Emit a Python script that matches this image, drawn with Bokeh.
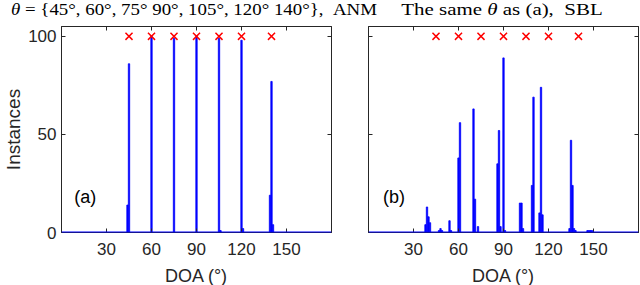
from bokeh.plotting import figure
from bokeh.models import (Range1d, LinearAxis, Label, Span, Div, FixedTicker,
                          CustomLabelingPolicy)
from bokeh.layouts import row, column
from bokeh.embed import file_html
from bokeh.resources import INLINE

# ---- data ----
theta = [45, 60, 75, 90, 105, 120, 140]
theta_marker_y = [100] * len(theta)

anm_doa = [44, 45, 60, 75, 90, 105, 106, 120, 121, 139, 140, 141]
anm_cnt = [14, 86, 100, 99, 100, 99, 1, 98, 2, 19, 77, 4]

sbl_doa = [38, 39, 40, 41, 47, 48, 49, 54, 55, 60, 61, 70, 71, 73,
           86, 87, 88, 90, 91, 101, 102, 103, 109, 110, 114, 115, 116,
           134, 135, 136, 137, 138, 146, 147, 148, 149]
sbl_cnt = [4, 13, 8, 5, 1, 2, 1, 6, 1, 38, 56, 63, 17, 3,
           35, 52, 3, 89, 1, 15, 15, 2, 24, 69, 10, 74, 9,
           2, 47, 24, 2, 1, 1, 1, 1, 1]

x_ticks = [30, 60, 90, 120, 150]
y_ticks = [0, 50, 100]
title_a = "<i>θ</i> = {45°, 60°, 75° 90°, 105°, 120° 140°},&nbsp; ANM"
title_b = "The same <i>θ</i> as (a),&nbsp; SBL"

AX = "#262626"
FONT = "Liberation Sans"
NO_LABELS = CustomLabelingPolicy(code="return new Set()")


def style_axis(ax, ticks, show_labels):
    ax.ticker = FixedTicker(ticks=ticks)
    ax.major_tick_in = 4
    ax.major_tick_out = 0
    ax.minor_tick_in = 0
    ax.minor_tick_out = 0
    ax.axis_line_color = AX
    ax.major_tick_line_color = AX
    ax.major_label_text_font = FONT
    ax.major_label_text_color = AX
    ax.axis_label_text_font = FONT
    ax.axis_label_text_font_style = "normal"
    ax.axis_label_text_color = AX
    if show_labels:
        ax.major_label_text_font_size = "17px"
    else:
        ax.major_label_policy = NO_LABELS
        ax.major_label_text_font_size = "1px"
        ax.major_label_standoff = 0


def make_fig(doa, cnt, tag, tag_x, left_labels, mb_left, mb_right):
    p = figure(frame_width=270, frame_height=206,
               x_range=Range1d(0, 180), y_range=Range1d(0, 105),
               output_backend="svg", toolbar_location=None,
               min_border_left=mb_left, min_border_right=mb_right,
               min_border_top=2, min_border_bottom=0)
    p.grid.visible = False
    p.outline_line_color = AX
    p.background_fill_color = "white"
    p.border_fill_color = "white"

    xb = p.xaxis[0]
    style_axis(xb, x_ticks, True)
    xb.axis_label = "DOA (°)"
    xb.axis_label_text_font_size = "18px"
    xb.major_label_standoff = 10
    xb.axis_label_standoff = 8

    yl = p.yaxis[0]
    style_axis(yl, y_ticks, left_labels)
    if left_labels:
        yl.axis_label = "Instances"
        yl.axis_label_text_font_size = "19px"
        yl.major_label_standoff = 5
        yl.axis_label_standoff = 1

    xt = LinearAxis()
    style_axis(xt, x_ticks, False)
    p.add_layout(xt, "above")
    yr = LinearAxis()
    style_axis(yr, y_ticks, False)
    p.add_layout(yr, "right")

    p.vbar(x=doa, top=cnt, width=0.9, fill_color="#0000FF",
           line_color="#0000FF", line_width=0.8)
    p.add_layout(Span(location=0, dimension="width", line_color="#0000FF",
                      line_width=2))
    p.scatter(theta, theta_marker_y, marker="x", size=10,
              line_color="#FF0000", line_width=1.5)
    p.add_layout(Label(x=tag_x, y=18, text=tag, text_baseline="middle",
                       text_font=FONT, text_font_size="18px",
                       text_color="#000000"))
    return p


p1 = make_fig(anm_doa, anm_cnt, "(a)", 8.5, True, 60, 18)
p2 = make_fig(sbl_doa, sbl_cnt, "(b)", 9.7, False, 19, 3)


def span(left, scale, content):
    return ('<span style="position:absolute;top:0;left:%dpx;'
            'transform:translateX(-50%%) scaleX(%.2f);">%s</span>'
            % (left, scale, content))


html = (
    '<div style="position:relative;width:640px;height:22px;'
    'font-family:\'Liberation Serif\';font-size:17px;line-height:19px;'
    'color:#000;white-space:nowrap;">'
    + span(194, 1.11, title_a) + span(502, 1.23, title_b) + '</div>'
)
titles = Div(text=html, width=640, height=22, margin=(0, 0, 0, 0))

layout = column(titles, row(p1, p2, spacing=0), spacing=0)

open("out.html", "w").write(file_html(layout, INLINE))
